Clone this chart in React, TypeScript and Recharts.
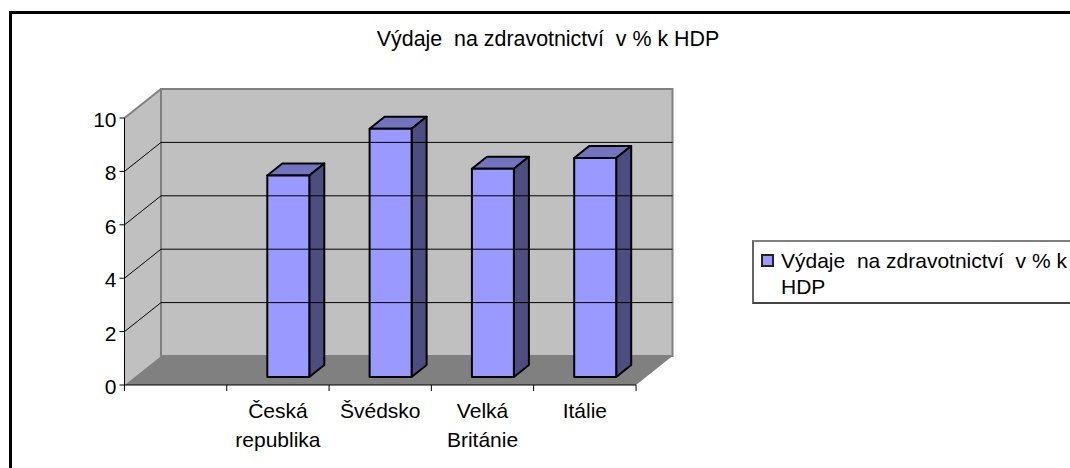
import React from "react";
import {
  BarChart,
  Bar,
  XAxis,
  YAxis,
  Legend,
  ReferenceArea,
  ReferenceLine,
} from "recharts";

const TITLE = "Výdaje  na zdravotnictví  v % k HDP";
const FONT = "'Liberation Sans', Arial, sans-serif";
const FONT_SIZE = 21;

// the first slot of the category axis is empty in the original
const categories = ["", "Česká republika", "Švédsko", "Velká Británie", "Itálie"];
const values = [null, 7.55, 9.3, 7.8, 8.2];
const yTicks = [0, 2, 4, 6, 8, 10];

const data = categories.map((name, i) => ({ name, value: values[i] }));

// 3D look: how far the back wall sits from the front axes
const DEPTH_X = 36.5;
const DEPTH_Y = 29;

const Box3D = (props: any) => {
  const { x, y, width, height } = props;
  if (!height) return null;
  // bars stand in the middle of the floor
  const left = x + 10.5;
  const right = left + width;
  const top = y - 8;
  const bottom = top + height;
  const dx = 15;
  const dy = 12;
  return (
    <g stroke="#000" strokeWidth={2} strokeLinejoin="round">
      <polygon
        points={`${left},${top} ${right},${top} ${right + dx},${top - dy} ${left + dx},${top - dy}`}
        fill="#7373BF"
      />
      <polygon
        points={`${right},${top} ${right + dx},${top - dy} ${right + dx},${bottom - dy} ${right},${bottom}`}
        fill="#4D4D80"
      />
      <rect x={left} y={top} width={width} height={height} fill="#9999FF" />
    </g>
  );
};

const Walls = ({ x, y, width, height }: any) => {
  const bottom = y + height;
  const right = x + width;
  return (
    <g>
      <polygon
        points={`${x},${y} ${x + DEPTH_X},${y - DEPTH_Y} ${x + DEPTH_X},${bottom - DEPTH_Y} ${x},${bottom}`}
        fill="#C0C0C0"
      />
      <rect x={x + DEPTH_X} y={y - DEPTH_Y} width={width} height={height} fill="#C0C0C0" stroke="#808080" strokeWidth={2} />
      <line x1={x} y1={y} x2={x + DEPTH_X} y2={y - DEPTH_Y} stroke="#808080" strokeWidth={2} />
      <polygon
        points={`${x},${bottom} ${right},${bottom} ${right + DEPTH_X},${bottom - DEPTH_Y} ${x + DEPTH_X},${bottom - DEPTH_Y}`}
        fill="#808080"
      />
    </g>
  );
};

const GridLine3D = (props: any) => {
  const { x1, y1, x2 } = props;
  return (
    <polyline
      points={`${x1},${y1} ${x1 + DEPTH_X},${y1 - DEPTH_Y} ${x2 + DEPTH_X},${y1 - DEPTH_Y}`}
      fill="none"
      stroke="#000"
      strokeWidth={1}
    />
  );
};

// ticks of the category axis sit on the slot edges, labels in the middle
const CategoryTick = ({ x, y, payload, index, visibleTicksCount }: any) => {
  const slot = 102.4;
  const words = String(payload.value).split(" ");
  const axisY = y - 8;
  return (
    <g>
      <line x1={x - slot / 2} y1={axisY} x2={x - slot / 2} y2={axisY + 6} stroke="#000" />
      {index === visibleTicksCount - 1 && (
        <line x1={x + slot / 2} y1={axisY} x2={x + slot / 2} y2={axisY + 6} stroke="#000" />
      )}
      <text x={x} y={axisY + 33} textAnchor="middle" fontSize={FONT_SIZE} fontFamily={FONT} fill="#000">
        {words.map((w, i) => (
          <tspan key={i} x={x} dy={i === 0 ? 0 : 29}>
            {w}
          </tspan>
        ))}
      </text>
    </g>
  );
};

const ValueTick = ({ x, y, payload }: any) => (
  <text x={x - 1} y={y + 9} textAnchor="end" fontSize={FONT_SIZE} fontFamily={FONT} fill="#000">
    {payload.value}
  </text>
);

const LegendBox = () => (
  <div
    style={{
      boxSizing: "border-box",
      width: 340,
      height: 64,
      borderTop: "2px solid #808080",
      borderLeft: "2px solid #666",
      borderBottom: "2px solid #444",
      background: "#fff",
      fontFamily: FONT,
      fontSize: FONT_SIZE,
      lineHeight: "26px",
      color: "#000",
      paddingTop: 6,
      paddingLeft: 27,
      position: "relative",
      whiteSpace: "pre",
    }}
  >
    <span
      style={{
        position: "absolute",
        left: 7,
        top: 12,
        width: 13,
        height: 13,
        background: "#9999FF",
        border: "2px solid #222",
        boxSizing: "border-box",
      }}
    />
    {"Výdaje  na zdravotnictví  v % k\nHDP"}
  </div>
);

export default function App() {
  return (
    <div style={{ position: "absolute", left: 0, top: 0, width: 1070, height: 468, overflow: "hidden", background: "#fff" }}>
      <div
        style={{
          position: "absolute",
          left: 9,
          top: 11,
          width: 1061,
          height: 457,
          borderLeft: "3px solid #000",
          borderTop: "3px solid #000",
          boxSizing: "border-box",
        }}
      />
      <div
        style={{
          position: "absolute",
          left: 248,
          width: 600,
          top: 27,
          textAlign: "center",
          fontFamily: FONT,
          fontSize: 21.4,
          whiteSpace: "pre",
          color: "#000",
        }}
      >
        {TITLE}
      </div>
      <BarChart
        width={1070}
        height={468}
        data={data}
        margin={{ top: 118, right: 434, bottom: 0, left: 84.5 }}
        barSize={42}
        style={{ position: "absolute", left: 0, top: 0 }}
      >
        <ReferenceArea yAxisId={0} y1={0} y2={10} shape={<Walls />} ifOverflow="visible" />
        {yTicks.slice(1, -1).map((t) => (
          <ReferenceLine key={t} y={t} shape={<GridLine3D />} ifOverflow="visible" />
        ))}
        <XAxis
          dataKey="name"
          interval={0}
          height={83}
          tickLine={false}
          axisLine={{ stroke: "#000" }}
          tick={<CategoryTick />}
        />
        <YAxis
          domain={[0, 10]}
          ticks={yTicks}
          width={40}
          tickLine={{ stroke: "#000" }}
          tickSize={5}
          axisLine={{ stroke: "#000" }}
          tick={<ValueTick />}
        />
        <Bar dataKey="value" name={TITLE} shape={<Box3D />} isAnimationActive={false} />
        <Legend
          layout="vertical"
          align="center"
          verticalAlign="middle"
          content={<LegendBox />}
          wrapperStyle={{ position: "absolute", left: 752, top: 240, width: 340 }}
        />
      </BarChart>
    </div>
  );
}
